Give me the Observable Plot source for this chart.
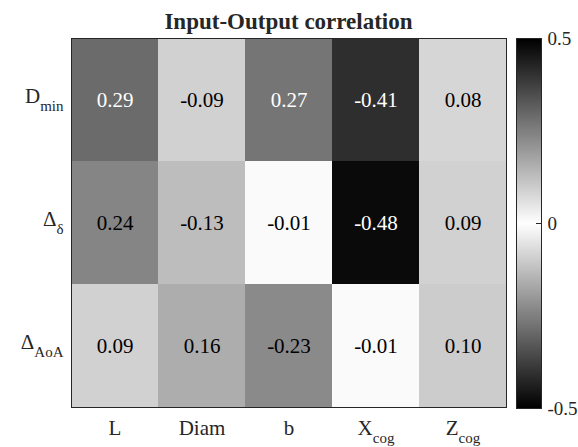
<!DOCTYPE html>
<html>
<head>
<meta charset="utf-8">
<script src="https://cdn.jsdelivr.net/npm/d3@7"></script>
<script src="https://cdn.jsdelivr.net/npm/@observablehq/plot@0.6"></script>
<style>
  body { margin: 0; background: #fff; }
  #wrap { position: relative; width: 578px; height: 447px; font-family: "Liberation Serif", "Times New Roman", serif; }
  #wrap svg, #wrap svg text, #wrap svg tspan { font-family: "Liberation Serif", "Times New Roman", serif !important; }
  #wrap svg { overflow: visible; }
  #title { position: absolute; left: 71px; width: 435px; top: 10px; text-align: center; font-size: 23px; line-height: 23px; font-weight: bold; color: #262626; }
  #main, #cbar { position: absolute; top: 0; }
  #main { left: 0; }
  #cbar { left: 506px; }
</style>
</head>
<body>
<div id="wrap">
  <div id="main"></div>
  <div id="cbar"></div>
  <div id="title">Input-Output correlation</div>
</div>
<script>
const rows = ["D_min", "Δ_δ", "Δ_AoA"];
const cols = ["L", "Diam", "b", "X_cog", "Z_cog"];
const rowDmin = [0.29, -0.09, 0.27, -0.41, 0.08];
const rowDdelta = [0.24, -0.13, -0.01, -0.48, 0.09];
const rowDAoA = [0.09, 0.16, -0.23, -0.01, 0.10];
const values = [rowDmin, rowDdelta, rowDAoA];
const cbarTicks = [-0.5, 0, 0.5];

const data = rows.flatMap((r, i) => cols.map((c, j) => ({row: r, col: c, value: values[i][j]})));
const colorScale = {type: "linear", domain: [-0.5, 0, 0.5], range: ["#000000", "#ffffff", "#000000"]};
const fontStyle = {fontFamily: "'Liberation Serif', 'Times New Roman', serif", fontSize: "21px", color: "#262626", background: "transparent", overflow: "visible"};

const main = Plot.plot({
  width: 520, height: 447,
  marginLeft: 71, marginRight: 14, marginTop: 38, marginBottom: 40,
  style: fontStyle,
  x: {domain: cols, padding: 0, label: null, tickSize: 0, tickPadding: 13},
  y: {domain: rows, padding: 0, label: null, tickSize: 0, tickPadding: 8},
  color: colorScale,
  marks: [
    Plot.cell(data, {x: "col", y: "row", fill: "value", inset: 0}),
    Plot.text(data.filter(d => Math.abs(d.value) > 0.25), {x: "col", y: "row", text: d => d.value.toFixed(2), fill: "white", fontSize: 21}),
    Plot.text(data.filter(d => Math.abs(d.value) <= 0.25), {x: "col", y: "row", text: d => d.value.toFixed(2), fill: "black", fontSize: 21}),
    Plot.frame({stroke: "#262626", strokeWidth: 1})
  ]
});
document.getElementById("main").appendChild(main);

function subscripts(svg, sel) {
  d3.select(svg).selectAll(sel).each(function() {
    const t = d3.select(this);
    const s = t.text();
    const [b, sub] = s.split("_");
    t.text(null);
    t.append("tspan").text(b);
    if (sub) t.append("tspan").attr("dy", 8).attr("font-size", 15).text(sub);
  });
}
subscripts(main, 'g[aria-label="x-axis tick label"] text');
subscripts(main, 'g[aria-label="y-axis tick label"] text');
d3.select(main).selectAll('g[aria-label="y-axis tick label"] text').attr("dy", "-0.2em");

const cbar = Plot.plot({
  width: 72, height: 447,
  marginLeft: 10, marginRight: 37, marginTop: 38, marginBottom: 39,
  style: {...fontStyle, fontSize: "19px"},
  x: {domain: [0, 1], axis: null},
  y: {domain: [-0.5, 0.5], axis: "right", ticks: cbarTicks, tickFormat: d => String(d), tickSize: 0, tickPadding: 6, label: null},
  color: colorScale,
  marks: [
    Plot.raster({x1: 0, x2: 1, y1: -0.5, y2: 0.5, width: 1, height: 256, fill: (x, y) => y}),
    Plot.ruleY(cbarTicks, {x1: 0.8, x2: 1, stroke: "#262626"}),
    Plot.frame({stroke: "#262626", strokeWidth: 1})
  ]
});
document.getElementById("cbar").appendChild(cbar);
</script>
</body>
</html>
